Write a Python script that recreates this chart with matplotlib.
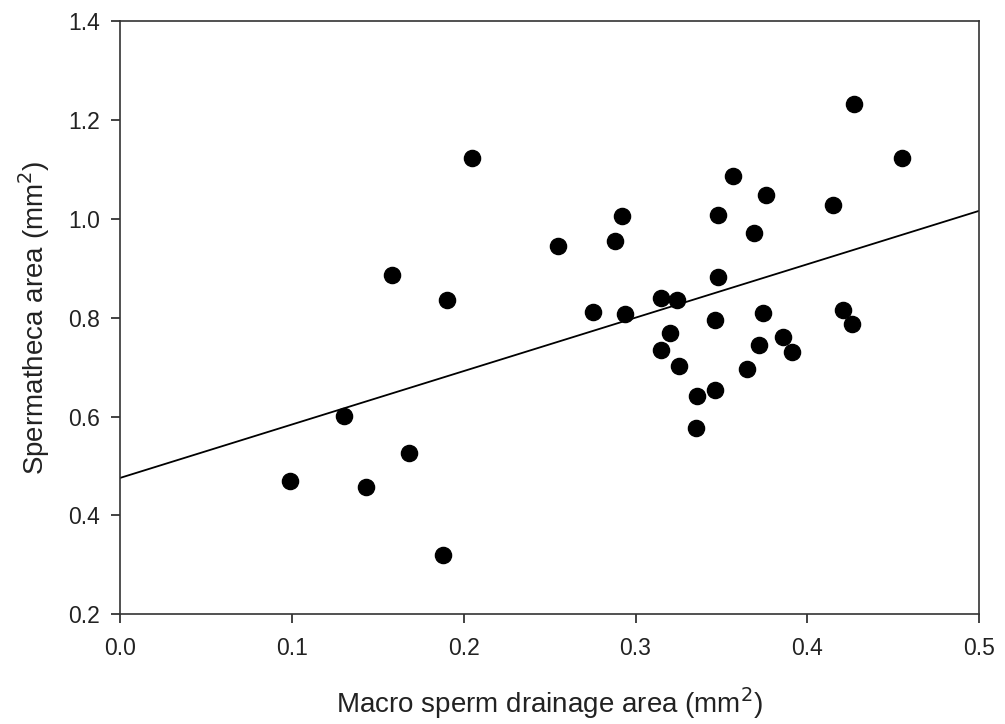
import matplotlib
matplotlib.use("Agg")
import matplotlib.pyplot as plt
import numpy as np

plt.rcParams['font.family'] = ['Liberation Sans', 'DejaVu Sans']

# Macro sperm drainage area (mm^2) vs spermatheca area (mm^2)
drainage = [0.099, 0.130, 0.143, 0.158, 0.168, 0.188, 0.190, 0.205,
            0.255, 0.275, 0.288, 0.292, 0.294, 0.315, 0.315, 0.320,
            0.324, 0.325, 0.335, 0.336, 0.346, 0.346, 0.348, 0.348,
            0.357, 0.365, 0.369, 0.372, 0.374, 0.376, 0.386, 0.391,
            0.415, 0.421, 0.426, 0.427, 0.455]
spermatheca = [0.470, 0.601, 0.457, 0.887, 0.526, 0.319, 0.836, 1.123,
               0.944, 0.812, 0.956, 1.005, 0.807, 0.840, 0.735, 0.768,
               0.836, 0.703, 0.576, 0.641, 0.795, 0.653, 0.883, 1.007,
               1.086, 0.697, 0.972, 0.744, 0.809, 1.048, 0.761, 0.731,
               1.028, 0.815, 0.787, 1.233, 1.123]

# regression line endpoints
fit_x = [0.0, 0.5]
fit_y = [0.476, 1.016]

fig = plt.figure(figsize=(10.05, 7.24), dpi=100)
ax = fig.add_axes([0.1197, 0.1515, 0.8545, 0.8195])

ax.plot(fit_x, fit_y, color='black', linewidth=1.3)
ax.scatter(drainage, spermatheca, s=135, color='black', zorder=3)

ax.set_xlim(0.0, 0.5)
ax.set_ylim(0.2, 1.4)
ax.set_xticks(np.arange(0.0, 0.51, 0.1))
ax.set_yticks(np.arange(0.2, 1.41, 0.2))
ax.xaxis.set_major_formatter(matplotlib.ticker.FormatStrFormatter('%.1f'))
ax.yaxis.set_major_formatter(matplotlib.ticker.FormatStrFormatter('%.1f'))
ax.tick_params(direction='out', length=6.5, width=1.2, labelsize=16.5,
               colors='#222222', pad=8)
ax.tick_params(axis='x', pad=10)
for sp in ax.spines.values():
    sp.set_linewidth(1.2)
    sp.set_color('#333333')

ax.set_xlabel('Macro sperm drainage area (mm$^2$)', fontsize=20,
              color='#222222', labelpad=18)
ax.set_ylabel('Spermatheca area (mm$^2$)', fontsize=20,
              color='#222222', labelpad=12)

fig.savefig('out.png', dpi=100)
